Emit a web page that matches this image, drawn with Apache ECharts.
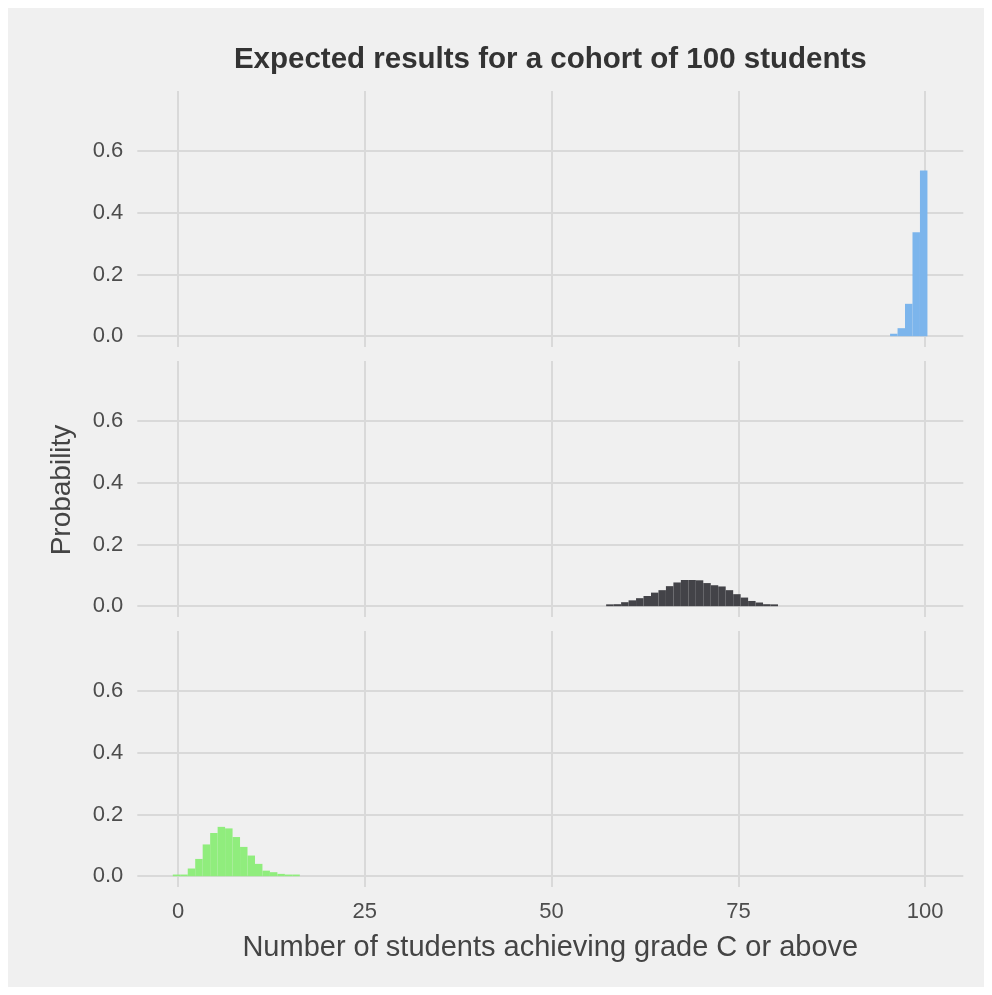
<!DOCTYPE html>
<html>
<head>
<meta charset="utf-8">
<script src="https://cdn.jsdelivr.net/npm/echarts@6/dist/echarts.min.js"></script>
<style>
  html, body { margin: 0; padding: 0; background: #ffffff; }
  #chart { width: 992px; height: 995px; }
</style>
</head>
<body>
<div id="chart"></div>
<script>
// ---- data ----
const titleText = 'Expected results for a cohort of 100 students';
const xAxisTitle = 'Number of students achieving grade C or above';
const yAxisTitle = 'Probability';
const xTickValues = [0, 25, 50, 75, 100];
const yTickValues = [0, 0.2, 0.4, 0.6];
const binWidth = 1;

// top panel (blue)
const topBinStarts = [95.3, 96.3, 97.3, 98.3, 99.3];
const topProbs     = [0.008, 0.026, 0.105, 0.337, 0.537];

// middle panel (dark)
const midBinStarts = [57.3, 58.3, 59.3, 60.3, 61.3, 62.3, 63.3, 64.3, 65.3, 66.3, 67.3, 68.3,
                      69.3, 70.3, 71.3, 72.3, 73.3, 74.3, 75.3, 76.3, 77.3, 78.3, 79.3];
const midProbs     = [0.006, 0.0065, 0.013, 0.019, 0.026, 0.033, 0.044, 0.052, 0.065, 0.077, 0.085, 0.085,
                      0.084, 0.075, 0.068, 0.064, 0.052, 0.039, 0.028, 0.017, 0.012, 0.0065, 0.006];

// bottom panel (green)
const lowBinStarts = [-0.7, 0.3, 1.3, 2.3, 3.3, 4.3, 5.3, 6.3, 7.3, 8.3, 9.3, 10.3, 11.3, 12.3, 13.3, 14.3, 15.3];
const lowProbs     = [0.0054, 0.0054, 0.025, 0.056, 0.103, 0.140, 0.160, 0.155, 0.127, 0.095, 0.067, 0.040,
                      0.018, 0.013, 0.0075, 0.0054, 0.0054];

// ---- styling / layout ----
const FONT = '"Liberation Sans", Arial, sans-serif';
const panelColors = ['#7cb5ec', '#434348', '#90ed7d'];
const panels = [
  { starts: topBinStarts, probs: topProbs },
  { starts: midBinStarts, probs: midProbs },
  { starts: lowBinStarts, probs: lowProbs }
];
const gridLeft = 137.3, gridWidth = 826, gridHeight = 256;
const gridTops = [91, 361, 631];
const gridColor = '#d9d9d9';

const chart = echarts.init(document.getElementById('chart'), null, { renderer: 'canvas' });

const grids = [], xAxes = [], yAxes = [], series = [];
panels.forEach((p, i) => {
  grids.push({ left: gridLeft, top: gridTops[i], width: gridWidth, height: gridHeight, containLabel: false });
  xAxes.push({
    type: 'value', gridIndex: i, min: -5.45, max: 105.1,
    axisLine: { show: false },
    axisTick: { show: false, customValues: xTickValues },
    axisLabel: {
      show: i === 2, customValues: xTickValues, margin: 14,
      fontSize: 22, color: '#4d4d4d', fontFamily: FONT
    },
    splitLine: { show: true, lineStyle: { color: gridColor, width: 2 } }
  });
  yAxes.push({
    type: 'value', gridIndex: i, min: -0.035, max: 0.795,
    axisLine: { show: false },
    axisTick: { show: false, customValues: yTickValues },
    axisLabel: {
      show: true, customValues: yTickValues, margin: 14,
      fontSize: 22, color: '#4d4d4d', fontFamily: FONT,
      formatter: v => v.toFixed(1)
    },
    splitLine: { show: true, lineStyle: { color: gridColor, width: 2 } }
  });
  const color = panelColors[i];
  series.push({
    type: 'custom', xAxisIndex: i, yAxisIndex: i,
    data: p.starts.map((s, k) => [s, p.probs[k]]),
    encode: { x: 0, y: 1 },
    clip: true,
    renderItem: function (params, api) {
      const x0 = api.value(0), h = api.value(1);
      const a = api.coord([x0, 0]);
      const b = api.coord([x0 + binWidth, h]);
      return {
        type: 'rect',
        shape: { x: a[0], y: b[1], width: b[0] - a[0], height: a[1] - b[1] },
        style: { fill: color }
      };
    }
  });
});

chart.setOption({
  backgroundColor: '#ffffff',
  animation: false,
  graphic: [
    { type: 'rect', z: -10, silent: true, shape: { x: 8, y: 8, width: 976, height: 979 }, style: { fill: '#f0f0f0' } },
    { type: 'text', x: gridLeft + gridWidth / 2, y: 60,
      style: { text: titleText, textAlign: 'center', textVerticalAlign: 'middle',
               font: 'bold 29.5px ' + FONT, fill: '#333333' } },
    { type: 'text', x: gridLeft + gridWidth / 2, y: 948,
      style: { text: xAxisTitle, textAlign: 'center', textVerticalAlign: 'middle',
               font: '29px ' + FONT, fill: '#444444' } },
    { type: 'text', x: 62, y: 490, rotation: Math.PI / 2,
      style: { text: yAxisTitle, textAlign: 'center', textVerticalAlign: 'middle',
               font: '28px ' + FONT, fill: '#444444' } }
  ],
  grid: grids,
  xAxis: xAxes,
  yAxis: yAxes,
  series: series
});
</script>
</body>
</html>
